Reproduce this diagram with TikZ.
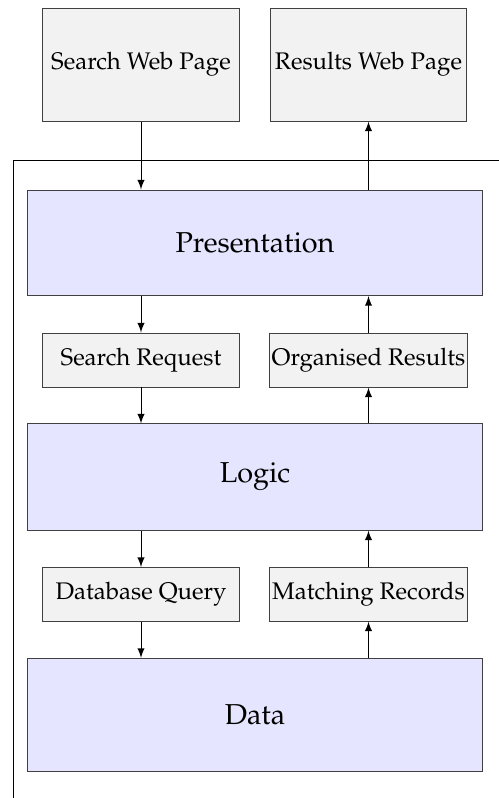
\documentclass[tikz,border=0pt]{standalone}
\usepackage[T1]{fontenc}
\usepackage{mathpazo}
\begin{document}
\begin{tikzpicture}[x=0.4167pt,y=-0.4167pt,
    pagebox/.style={draw=black!75,fill=black!5,inner sep=1pt,minimum width=81.7pt},
    layerbox/.style={draw=black!75,fill=blue!10,inner sep=1pt,minimum width=189.2pt,font=\large},
    flow/.style={-latex}]
    \useasboundingbox (0,0) rectangle (499,798);
    \clip (0,0) rectangle (499,798);
    \draw [black] (13,830) -- (13,160) -- (530,160);
    \node (search) at (141,64.5) [pagebox,minimum height=47.1pt] {Search Web Page};
    \node (results) at (368.5,64.5) [pagebox,minimum height=47.1pt] {Results Web Page};
    \node (pres) at (255,242.8) [layerbox,minimum height=44pt] {Presentation};
    \node (request) at (141,360) [pagebox,minimum height=22.5pt] {Search Request};
    \node (organised) at (368.5,360) [pagebox,minimum height=22.5pt] {Organised Results};
    \node (logic) at (255,477) [layerbox,minimum height=44.2pt] {Logic};
    \node (query) at (141,594.3) [pagebox,minimum height=22.3pt] {Database Query};
    \node (matching) at (368.5,594.3) [pagebox,minimum height=22.3pt] {Matching Records};
    \node (data) at (255,715) [layerbox,minimum height=47.2pt] {Data};
    \draw [flow] (search.south) -- (search.south |- pres.north);
    \draw [flow] (pres.south -| request.north) -- (request.north);
    \draw [flow] (request.south) -- (request.south |- logic.north);
    \draw [flow] (logic.south -| query.north) -- (query.north);
    \draw [flow] (query.south) -- (query.south |- data.north);
    \draw [flow] (data.north -| matching.south) -- (matching.south);
    \draw [flow] (matching.north) -- (matching.north |- logic.south);
    \draw [flow] (logic.north -| organised.south) -- (organised.south);
    \draw [flow] (organised.north) -- (organised.north |- pres.south);
    \draw [flow] (pres.north -| results.south) -- (results.south);
\end{tikzpicture}
\end{document}
